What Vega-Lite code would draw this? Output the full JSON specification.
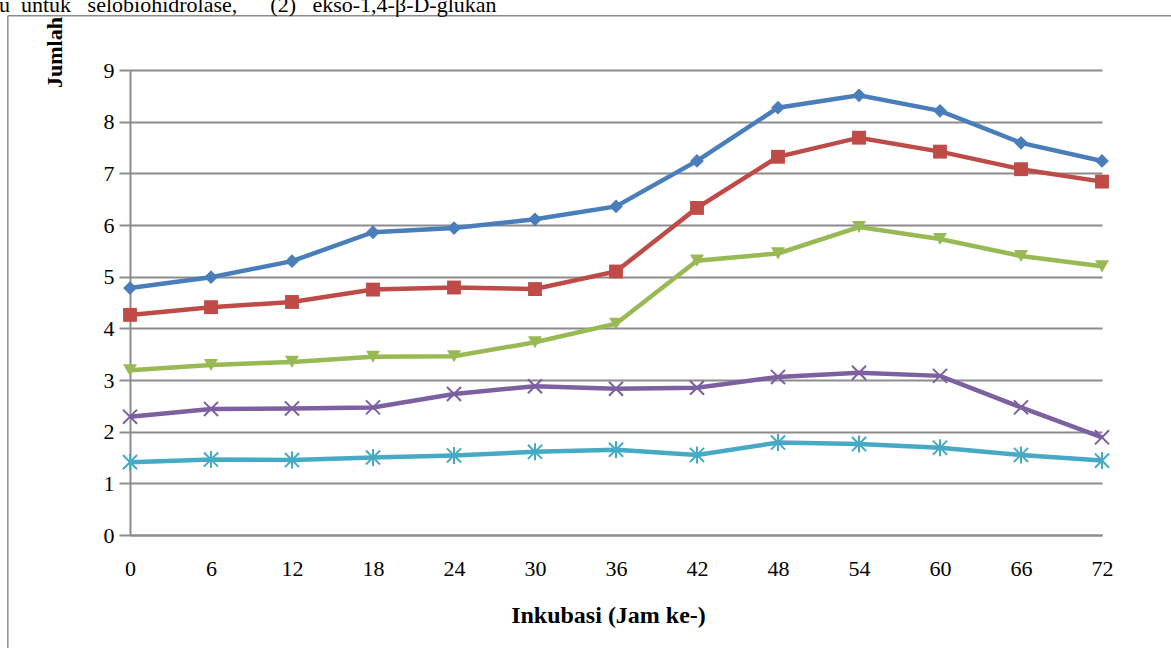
{
  "$schema": "https://vega.github.io/schema/vega-lite/v6.json",
  "width": 972,
  "height": 465,
  "autosize": {"type": "none"},
  "padding": {"left": 130, "top": 70, "right": 69, "bottom": 113},
  "background": "white",
  "config": {"view": {"stroke": null}, "font": "Liberation Serif, DejaVu Serif, serif"},
  "title": {
    "text": "u\u00a0 untuk\u00a0\u00a0 selobiohidrolase,\u00a0\u00a0\u00a0\u00a0\u00a0 (2)\u00a0\u00a0 ekso-1,4-β-D-glukan",
    "anchor": "start",
    "frame": "group",
    "dx": -131,
    "dy": 23,
    "offset": 4,
    "baseline": "alphabetic",
    "font": "Liberation Serif",
    "fontSize": 22,
    "fontWeight": "normal",
    "color": "#000000"
  },
  "data": {
    "values": [
      {"s": "A", "jam": 0, "v": 4.78}, {"s": "A", "jam": 6, "v": 4.99}, {"s": "A", "jam": 12, "v": 5.30}, {"s": "A", "jam": 18, "v": 5.86}, {"s": "A", "jam": 24, "v": 5.94}, {"s": "A", "jam": 30, "v": 6.11}, {"s": "A", "jam": 36, "v": 6.36}, {"s": "A", "jam": 42, "v": 7.24}, {"s": "A", "jam": 48, "v": 8.27}, {"s": "A", "jam": 54, "v": 8.51}, {"s": "A", "jam": 60, "v": 8.21}, {"s": "A", "jam": 66, "v": 7.59}, {"s": "A", "jam": 72, "v": 7.24},
      {"s": "B", "jam": 0, "v": 4.26}, {"s": "B", "jam": 6, "v": 4.41}, {"s": "B", "jam": 12, "v": 4.51}, {"s": "B", "jam": 18, "v": 4.75}, {"s": "B", "jam": 24, "v": 4.79}, {"s": "B", "jam": 30, "v": 4.76}, {"s": "B", "jam": 36, "v": 5.10}, {"s": "B", "jam": 42, "v": 6.33}, {"s": "B", "jam": 48, "v": 7.32}, {"s": "B", "jam": 54, "v": 7.69}, {"s": "B", "jam": 60, "v": 7.42}, {"s": "B", "jam": 66, "v": 7.08}, {"s": "B", "jam": 72, "v": 6.84},
      {"s": "C", "jam": 0, "v": 3.19}, {"s": "C", "jam": 6, "v": 3.29}, {"s": "C", "jam": 12, "v": 3.35}, {"s": "C", "jam": 18, "v": 3.45}, {"s": "C", "jam": 24, "v": 3.46}, {"s": "C", "jam": 30, "v": 3.73}, {"s": "C", "jam": 36, "v": 4.09}, {"s": "C", "jam": 42, "v": 5.31}, {"s": "C", "jam": 48, "v": 5.45}, {"s": "C", "jam": 54, "v": 5.96}, {"s": "C", "jam": 60, "v": 5.73}, {"s": "C", "jam": 66, "v": 5.40}, {"s": "C", "jam": 72, "v": 5.20},
      {"s": "D", "jam": 0, "v": 2.29}, {"s": "D", "jam": 6, "v": 2.44}, {"s": "D", "jam": 12, "v": 2.45}, {"s": "D", "jam": 18, "v": 2.47}, {"s": "D", "jam": 24, "v": 2.73}, {"s": "D", "jam": 30, "v": 2.88}, {"s": "D", "jam": 36, "v": 2.83}, {"s": "D", "jam": 42, "v": 2.85}, {"s": "D", "jam": 48, "v": 3.06}, {"s": "D", "jam": 54, "v": 3.14}, {"s": "D", "jam": 60, "v": 3.08}, {"s": "D", "jam": 66, "v": 2.47}, {"s": "D", "jam": 72, "v": 1.89},
      {"s": "E", "jam": 0, "v": 1.41}, {"s": "E", "jam": 6, "v": 1.46}, {"s": "E", "jam": 12, "v": 1.45}, {"s": "E", "jam": 18, "v": 1.50}, {"s": "E", "jam": 24, "v": 1.54}, {"s": "E", "jam": 30, "v": 1.61}, {"s": "E", "jam": 36, "v": 1.65}, {"s": "E", "jam": 42, "v": 1.55}, {"s": "E", "jam": 48, "v": 1.79}, {"s": "E", "jam": 54, "v": 1.76}, {"s": "E", "jam": 60, "v": 1.69}, {"s": "E", "jam": 66, "v": 1.55}, {"s": "E", "jam": 72, "v": 1.44}
    ]
  },
  "layer": [
    {
      "mark": {"type": "line", "strokeWidth": 4.5, "clip": false},
      "encoding": {
        "x": {
          "field": "jam", "type": "quantitative",
          "scale": {"domain": [0, 72], "nice": false, "zero": false},
          "axis": {
            "values": [0, 6, 12, 18, 24, 30, 36, 42, 48, 54, 60, 66, 72],
            "grid": false, "ticks": false,
            "domainColor": "#8c8c8c", "domainWidth": 2,
            "labelFont": "Liberation Serif, DejaVu Serif, serif", "labelFontSize": 22, "labelColor": "#000000",
            "labelBaseline": "middle", "labelPadding": 33, "labelFlush": false,
            "title": "Inkubasi (Jam ke-)",
            "titleFont": "Liberation Serif, DejaVu Serif, serif", "titleFontSize": 24, "titleFontWeight": "bold", "titleColor": "#000000",
            "titleX": 478, "titleY": 80, "titleAlign": "center", "titleBaseline": "middle"
          }
        },
        "y": {
          "field": "v", "type": "quantitative",
          "scale": {"domain": [0, 9], "nice": false},
          "axis": {
            "values": [0, 1, 2, 3, 4, 5, 6, 7, 8, 9],
            "grid": true, "gridColor": "#8c8c8c", "gridWidth": 2,
            "ticks": true, "tickSize": 11, "tickColor": "#8c8c8c", "tickWidth": 2,
            "domainColor": "#8c8c8c", "domainWidth": 2,
            "labelFont": "Liberation Serif, DejaVu Serif, serif", "labelFontSize": 22, "labelColor": "#000000",
            "labelPadding": 5,
            "title": "Jumlah",
            "titleFont": "Liberation Serif, DejaVu Serif, serif", "titleFontSize": 22, "titleFontWeight": "bold", "titleColor": "#000000",
            "titleAngle": 270, "titleX": -76, "titleY": -18, "titleAlign": "center", "titleBaseline": "middle"
          }
        },
        "color": {
          "field": "s", "type": "nominal",
          "scale": {"domain": ["A", "B", "C", "D", "E"], "range": ["#4a7ebb", "#be4b48", "#98b954", "#7d60a0", "#46aac5"]},
          "legend": null
        }
      }
    },
    {
      "data": {"values": [{}]},
      "mark": {"type": "rule", "clip": false, "color": "#8c8c8c", "strokeWidth": 1.5},
      "encoding": {
        "x": {"datum": -9.05, "type": "quantitative"},
        "y": {"datum": 10.05, "type": "quantitative"},
        "y2": {"datum": -2.6}
      }
    },
    {
      "data": {"values": [{}]},
      "mark": {"type": "rule", "clip": false, "color": "#8c8c8c", "strokeWidth": 1.5},
      "encoding": {
        "x": {"datum": -9.05, "type": "quantitative"},
        "x2": {"datum": 80},
        "y": {"datum": 10.05, "type": "quantitative"}
      }
    },
    {
      "transform": [{"filter": "datum.s == 'A' || datum.s == 'B' || datum.s == 'C'"}],
      "mark": {"type": "point", "filled": true, "opacity": 1, "clip": false},
      "encoding": {
        "x": {"field": "jam", "type": "quantitative"},
        "y": {"field": "v", "type": "quantitative"},
        "color": {"field": "s", "type": "nominal", "legend": null},
        "shape": {
          "field": "s", "type": "nominal",
          "scale": {"domain": ["A", "B", "C", "D", "E"], "range": ["diamond", "square", "triangle-down", "M-1,-1L1,1M-1,1L1,-1", "M-1,-1L1,1M-1,1L1,-1M0,-1.2L0,1.2"]},
          "legend": null
        },
        "size": {
          "field": "s", "type": "nominal",
          "scale": {"domain": ["A", "B", "C", "D", "E"], "range": [190, 200, 110, 170, 110]},
          "legend": null
        }
      }
    },
    {
      "transform": [{"filter": "datum.s == 'D' || datum.s == 'E'"}],
      "mark": {"type": "point", "filled": false, "opacity": 1, "strokeWidth": 2, "clip": false},
      "encoding": {
        "x": {"field": "jam", "type": "quantitative"},
        "y": {"field": "v", "type": "quantitative"},
        "color": {"field": "s", "type": "nominal", "legend": null},
        "shape": {"field": "s", "type": "nominal", "legend": null},
        "size": {"field": "s", "type": "nominal", "legend": null}
      }
    }
  ]
}
